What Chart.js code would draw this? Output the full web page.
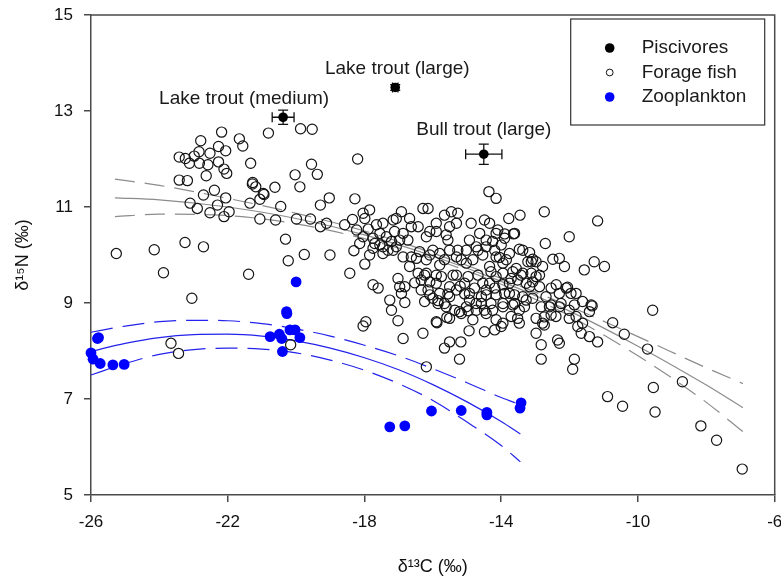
<!DOCTYPE html>
<html>
<head>
<meta charset="utf-8">
<script src="https://cdn.jsdelivr.net/npm/chart.js@4.4.1/dist/chart.umd.min.js"></script>
<style>
  body { margin: 0; background: #fff; }
  #wrap { width: 781px; height: 580px; }
</style>
</head>
<body>
<div id="wrap"><canvas id="myChart" width="781" height="580"></canvas></div>
<script>
// piscivores (mean +/- error)
var piscLabels = ['Lake trout (medium)', 'Lake trout (large)', 'Bull trout (large)'];
var piscC13 = [-20.38, -17.1, -14.51];
var piscN15 = [12.87, 13.49, 12.10];
var piscC13Err = [0.32, 0.08, 0.53];
var piscN15Err = [0.15, 0.06, 0.21];

// forage fish [d13C, d15N]
var forageFish = [
  [-22.18,12.56],[-21.66,12.42],[-21.56,12.27],[-20.81,12.54],[-19.87,12.63],[-19.53,12.62],[-22.79,12.38],[-22.27,12.26],[-22.06,12.17],[-22.84,12.15],
  [-22.52,12.12],[-23.42,12.04],[-23.24,12.01],[-22.98,12.06],[-23.12,11.91],[-22.83,11.91],[-22.58,11.88],[-22.27,11.94],[-22.11,11.79],[-22.03,11.70],
  [-22.63,11.65],[-21.33,11.91],[-23.42,11.56],[-23.18,11.55],[-22.39,11.35],[-22.71,11.25],[-22.06,11.19],[-23.10,11.08],[-22.89,10.97],[-22.52,10.88],
  [-22.30,11.04],[-22.11,10.80],[-21.96,10.90],[-21.28,11.48],[-21.18,11.42],[-20.94,11.26],[-21.06,11.16],[-21.35,11.08],[-20.62,11.41],[-20.45,11.01],
  [-21.06,10.75],[-20.60,10.73],[-20.03,11.67],[-19.89,11.42],[-19.55,11.89],[-19.38,11.68],[-19.99,10.75],[-19.58,10.75],[-19.29,11.04],[-19.03,11.19],
  [-19.11,10.66],[-19.29,10.59],[-20.31,10.33],[-23.25,10.26],[-22.71,10.17],[-24.15,10.11],[-25.26,10.03],[-20.23,9.88],[-19.76,10.01],[-19.01,10.00],
  [-23.88,9.63],[-21.39,9.60],[-23.05,9.10],[-23.66,8.16],[-23.44,7.95],[-21.27,11.51],[-20.96,11.28],[-18.28,11.17],[-18.20,12.00],[-20.16,8.13],
  [-14.36,11.32],[-14.15,11.18],
  [-18.31,10.09],[-18.35,10.74],[-18.04,10.87],[-17.85,10.94],[-17.99,10.76],[-18.58,10.63],[-18.23,10.52],[-17.89,10.54],[-17.65,10.63],[-17.46,10.66],
  [-17.16,10.73],[-17.07,10.76],[-16.92,10.90],[-16.68,10.76],[-16.63,10.59],[-16.87,10.45],[-17.12,10.49],[-17.55,10.45],[-17.36,10.38],[-17.75,10.35],
  [-18.04,10.38],[-18.14,10.24],[-17.70,10.24],[-17.46,10.17],[-17.21,10.28],[-16.97,10.31],[-16.73,10.31],[-16.43,10.59],[-16.29,10.97],[-16.14,10.97],
  [-16.19,10.38],[-16.09,10.49],[-15.90,10.66],[-15.66,10.83],[-15.46,10.90],[-15.27,10.87],[-15.51,10.59],[-15.31,10.66],[-15.61,10.42],[-15.56,10.31],
  [-15.90,10.49],[-15.80,10.03],[-16.09,10.00],[-16.39,10.07],[-16.63,9.96],[-16.87,9.96],[-17.16,10.10],[-17.46,10.03],[-17.75,10.14],[-17.85,10.00],
  [-14.88,10.66],[-14.49,10.73],[-14.63,10.45],[-14.93,10.31],[-14.73,10.17],[-14.44,10.31],[-15.02,10.10],[-15.27,10.10],[-15.51,10.10],[-14.54,10.00],
  [-15.17,9.90],
  [-13.45,10.83],[-13.78,10.76],[-12.74,10.90],[-11.18,10.71],[-14.34,10.66],[-14.10,10.52],[-13.90,10.44],[-13.64,10.44],[-14.25,10.28],[-14.00,10.21],
  [-14.19,10.10],[-12.71,10.24],[-12.01,10.38],[-13.47,10.12],[-13.37,10.10],[-13.17,10.05],[-14.05,9.95],[-13.85,9.90],[-13.08,9.91],[-12.49,9.91],
  [-12.30,9.93],[-11.28,9.86],[-10.98,9.76],[-12.15,9.76],[-11.57,9.69],[-13.22,9.86],[-12.98,9.86],
  [-17.55,10.21],[-17.31,10.10],[-17.07,10.17],[-16.48,9.93],[-16.19,9.90],[-16.00,10.10],[-15.80,9.79],[-15.66,9.90],[-15.31,9.96],[-15.02,9.83],
  [-14.83,9.90],[-14.68,10.10],[-14.34,9.76],[-14.44,10.17],[-14.15,9.96],[-13.95,9.83],[-13.76,10.03],[-13.56,9.72],[-13.37,9.62],[-13.71,9.51],
  [-14.15,10.45],[-13.90,10.35],[-13.61,10.45],
  [-18.43,9.62],[-17.99,9.81],[-17.75,9.38],[-17.60,9.31],[-17.02,9.51],[-16.97,9.34],[-16.92,9.20],[-16.82,9.34],[-17.26,9.06],[-17.21,8.85],
  [-17.02,8.63],[-16.68,9.76],[-16.43,9.62],[-16.24,9.58],[-16.09,9.44],[-16.34,9.27],[-16.14,9.27],[-15.90,9.41],[-15.80,9.20],[-16.00,9.10],
  [-16.24,9.03],[-15.85,8.99],[-15.61,8.92],[-15.51,9.13],[-15.31,9.27],[-15.41,9.58],[-15.07,9.41],[-14.93,9.20],[-14.73,8.99],[-14.58,9.13],
  [-14.44,9.27],[-14.34,9.41],[-14.15,9.55],[-13.95,9.38],[-13.76,9.20],[-13.61,8.99],[-13.95,8.92],[-14.25,8.85],[-14.44,8.78],[-14.15,8.65],
  [-13.95,8.58],[-13.47,8.85],[-13.27,9.06],[-13.17,9.34],[-12.98,9.55],[-12.79,9.76],[-13.12,9.86],[-12.88,9.34],[-12.69,9.13],[-12.59,8.92],
  [-12.30,9.20],[-12.10,9.31],[-11.81,9.20],[-11.62,9.03],[-12.01,8.85],[-11.81,8.72],[-11.62,8.58],[-12.30,8.92],[-12.40,8.72],[-12.79,8.58],
  [-12.98,8.37],[-13.47,8.58],[-13.71,8.72],[-14.83,8.65],[-15.02,8.92],[-15.17,8.78],[-15.36,8.85],[-15.51,8.68],[-15.90,8.61],[-16.29,8.37],
  [-16.87,8.26],
  [-16.82,9.01],[-17.96,8.61],[-18.04,8.52],[-16.53,9.42],[-16.34,9.48],[-16.19,9.62],[-15.90,9.58],[-15.75,9.55],[-16.09,9.17],[-15.85,9.05],
  [-15.66,8.99],[-15.56,9.19],[-15.51,9.34],[-15.31,9.58],[-15.20,9.35],[-15.07,9.19],[-14.93,9.06],[-14.97,9.55],[-14.78,9.31],[-14.68,9.58],
  [-14.54,9.41],[-14.44,9.17],[-14.58,8.99],[-14.73,8.85],[-14.97,8.84],[-15.22,8.82],[-15.59,8.70],[-14.49,8.85],[-15.88,8.59],[-14.94,8.42],
  [-14.49,8.40],[-15.18,8.19],[-15.51,8.19],[-15.66,8.06],[-15.22,7.83],[-16.19,7.67],[-14.19,8.44],[-14.00,8.51],
  [-14.30,9.65],[-13.95,9.62],[-13.66,9.65],[-13.42,9.58],[-13.12,9.62],[-12.88,9.58],[-14.19,9.31],
  [-13.76,9.41],[-13.52,9.48],[-13.27,9.41],[-13.08,9.44],[-12.54,9.31],[-12.39,9.38],[-12.06,9.33],[-11.96,9.20],[-14.15,9.17],
  [-13.90,9.20],[-13.61,9.17],[-13.37,9.13],[-13.08,9.10],[-14.30,8.99],[-13.95,8.99],[-13.66,8.96],[-13.32,8.92],[-12.83,8.92],[-12.54,8.96],
  [-12.25,8.99],[-11.37,8.96],[-11.86,8.96],[-11.42,8.82],[-13.52,8.68],[-12.98,8.68],[-12.74,8.71],[-12.54,8.75],[-12.74,8.54],[-12.01,8.68],
  [-11.76,8.51],[-11.66,8.37],[-11.42,8.30],[-11.18,8.19],[-10.74,8.59],[-10.40,8.35],[-9.72,8.04],[-12.83,8.13],[-12.35,8.23],[-12.30,8.16],
  [-12.83,7.83],[-11.86,7.83],[-11.91,7.62],
  [-9.57,8.85],[-8.70,7.36],[-9.55,7.24],[-10.89,7.05],[-10.45,6.85],[-9.50,6.73],[-8.16,6.44],[-7.70,6.14],[-6.95,5.54],[-11.34,8.94]
];

// zooplankton [d13C, d15N]
var zooplankton = [
  [-25.81,8.26],[-25.78,8.28],[-26.0,7.96],[-25.94,7.83],[-25.73,7.74],[-25.36,7.71],[-25.03,7.72],
  [-20.0,9.44],[-20.28,8.82],[-20.27,8.78],[-20.76,8.30],[-20.49,8.35],[-20.42,8.26],[-20.40,7.99],[-20.18,8.44],[-20.03,8.44],[-19.89,8.28],
  [-17.26,6.42],[-16.82,6.44],[-16.04,6.75],[-15.17,6.76],[-14.42,6.72],[-14.42,6.67],[-13.42,6.92],[-13.45,6.81]
];

// fitted curves
var forageFitC13 = [-25.3, -24, -22, -20, -18, -16, -14, -12, -10, -8, -6.93];
var forageFit    = [11.19, 11.15, 11.00, 10.76, 10.42, 9.98, 9.45, 8.83, 8.10, 7.29, 6.82];
var forageUpper  = [11.58, 11.45, 11.18, 10.87, 10.50, 10.04, 9.51, 8.93, 8.30, 7.65, 7.32];
var forageLower  = [10.80, 10.85, 10.82, 10.65, 10.34, 9.92, 9.39, 8.73, 7.90, 6.93, 6.32];

var zooFitC13 = [-26, -25, -24, -23, -22, -21, -20, -19, -18, -17, -16, -15, -14, -13.44];
var zooFit    = [7.99, 8.16, 8.28, 8.34, 8.35, 8.31, 8.21, 8.06, 7.86, 7.61, 7.30, 6.94, 6.53, 6.27];
var zooUpper  = [8.39, 8.52, 8.61, 8.64, 8.63, 8.57, 8.46, 8.31, 8.12, 7.90, 7.63, 7.34, 7.03, 6.88];
var zooLower  = [7.50, 7.74, 7.93, 8.03, 8.06, 8.04, 7.96, 7.81, 7.60, 7.32, 6.97, 6.52, 6.03, 5.69];

var xTicks = [-26, -22, -18, -14, -10, -6];
var yTicks = [5, 7, 9, 11, 13, 15];

var fontFam = '"Liberation Sans", Arial, sans-serif';
var axisColor = '#4a4a4a';
var blue = 'rgb(0,0,255)';
var blueLine = 'rgb(35,35,235)';
var grayLine = 'rgb(140,140,140)';

function pts(xs, ys) {
  return xs.map(function (x, i) { return { x: x, y: ys[i] }; });
}
function pairs(arr) {
  return arr.map(function (p) { return { x: p[0], y: p[1] }; });
}

function fitLine(xs, ys, color, dash) {
  return {
    data: pts(xs, ys),
    showLine: true,
    borderColor: color,
    borderWidth: 1.2,
    borderDash: dash,
    pointRadius: 0,
    fill: false,
    clip: false,
    cubicInterpolationMode: 'monotone'
  };
}

// error bars of piscivores
var errorBars = {
  id: 'errorBars',
  beforeDatasetsDraw(chart) {
    var c = chart.ctx, xs = chart.scales.x, ys = chart.scales.y, cap = 5;
    c.save();
    c.strokeStyle = '#111';
    c.lineWidth = 1.3;
    for (var i = 0; i < piscC13.length; i++) {
      var px = xs.getPixelForValue(piscC13[i]), py = ys.getPixelForValue(piscN15[i]);
      var x0 = xs.getPixelForValue(piscC13[i] - piscC13Err[i]), x1 = xs.getPixelForValue(piscC13[i] + piscC13Err[i]);
      var y0 = ys.getPixelForValue(piscN15[i] - piscN15Err[i]), y1 = ys.getPixelForValue(piscN15[i] + piscN15Err[i]);
      c.beginPath();
      c.moveTo(x0, py); c.lineTo(x1, py);
      c.moveTo(x0, py - cap); c.lineTo(x0, py + cap);
      c.moveTo(x1, py - cap); c.lineTo(x1, py + cap);
      c.moveTo(px, y0); c.lineTo(px, y1);
      c.moveTo(px - cap, y0); c.lineTo(px + cap, y0);
      c.moveTo(px - cap, y1); c.lineTo(px + cap, y1);
      c.stroke();
    }
    c.restore();
  }
};

// text next to the piscivores
var labelDx = [-39, 2, 0];
var labelDy = [-18, -19, -24];
var pointLabels = {
  id: 'pointLabels',
  afterDatasetsDraw(chart) {
    var c = chart.ctx, xs = chart.scales.x, ys = chart.scales.y;
    c.save();
    c.font = '19px ' + fontFam;
    c.fillStyle = '#1a1a1a';
    c.textAlign = 'center';
    c.textBaseline = 'middle';
    piscLabels.forEach(function (t, i) {
      c.fillText(t, xs.getPixelForValue(piscC13[i]) + labelDx[i], ys.getPixelForValue(piscN15[i]) + labelDy[i]);
    });
    c.restore();
  }
};

// top + right border and boxed legend
var frameAndLegend = {
  id: 'frameAndLegend',
  afterDraw(chart) {
    var a = chart.chartArea, c = chart.ctx;
    c.save();
    c.strokeStyle = axisColor;
    c.lineWidth = 1.5;
    c.beginPath();
    c.moveTo(a.left, a.top); c.lineTo(a.right, a.top); c.lineTo(a.right, a.bottom);
    c.stroke();

    var bx = a.right - 204, by = a.top + 4;
    c.lineWidth = 1.2;
    c.strokeStyle = '#333';
    c.strokeRect(bx, by, 194, 106);
    c.font = '19px ' + fontFam;
    c.fillStyle = '#1a1a1a';
    c.textAlign = 'left';
    c.textBaseline = 'middle';
    var items = chart.data.datasets.filter(function (d) { return d.inLegend; });
    items.forEach(function (d, i) {
      var ry = by + 29 + i * 24.5, mx = bx + 39;
      c.beginPath();
      if (d.backgroundColor === 'transparent') {
        c.arc(mx, ry, 3.4, 0, Math.PI * 2);
        c.lineWidth = 1;
        c.strokeStyle = '#111';
        c.stroke();
      } else {
        c.arc(mx, ry, 4.8, 0, Math.PI * 2);
        c.fillStyle = d.backgroundColor;
        c.fill();
      }
      c.fillStyle = '#1a1a1a';
      c.fillText(d.label, bx + 71, ry);
    });
    c.restore();
  }
};

var ctx = document.getElementById('myChart');
var myChart = new Chart(ctx, {
  type: 'scatter',
  data: {
    datasets: [
      {
        label: 'Piscivores', inLegend: true, clip: false,
        data: pts(piscC13, piscN15),
        pointRadius: 4.8, backgroundColor: '#000', borderColor: '#000', borderWidth: 0
      },
      {
        label: 'Forage fish', inLegend: true, clip: false,
        data: pairs(forageFish),
        pointRadius: 5.1, backgroundColor: 'transparent', borderColor: '#151515', borderWidth: 1.2
      },
      {
        label: 'Zooplankton', inLegend: true, clip: false,
        data: pairs(zooplankton),
        pointRadius: 5.4, backgroundColor: blue, borderColor: blue, borderWidth: 0
      },
      fitLine(zooFitC13, zooFit, blueLine, []),
      fitLine(zooFitC13, zooUpper, blueLine, [22, 10]),
      fitLine(zooFitC13, zooLower, blueLine, [22, 10]),
      fitLine(forageFitC13, forageFit, grayLine, []),
      fitLine(forageFitC13, forageUpper, grayLine, [20, 10]),
      fitLine(forageFitC13, forageLower, grayLine, [20, 10])
    ]
  },
  options: {
    responsive: false,
    animation: false,
    events: [],
    layout: { padding: { left: 0, right: 5, top: 15, bottom: 0 } },
    plugins: { legend: { display: false }, tooltip: { enabled: false } },
    scales: {
      x: {
        type: 'linear', min: xTicks[0], max: xTicks[xTicks.length - 1],
        afterBuildTicks: function (s) { s.ticks = xTicks.map(function (v) { return { value: v }; }); },
        ticks: { padding: 10, color: '#111', font: { family: fontFam, size: 17 }, maxRotation: 0 },
        grid: { drawOnChartArea: false, drawTicks: true, tickLength: 7, color: axisColor, lineWidth: 1.5 },
        border: { display: true, color: axisColor, width: 1.5 },
        title: { display: true, text: 'δ¹³C (‰)', color: '#111', font: { family: fontFam, size: 18 }, padding: { top: 0, bottom: 2 } },
        afterFit: function (s) { s.height = 85; s.paddingLeft = 0; s.paddingRight = 0; }
      },
      y: {
        type: 'linear', min: yTicks[0], max: yTicks[yTicks.length - 1],
        afterBuildTicks: function (s) { s.ticks = yTicks.map(function (v) { return { value: v }; }); },
        ticks: { padding: 11, color: '#111', font: { family: fontFam, size: 17 } },
        grid: { drawOnChartArea: false, drawTicks: true, tickLength: 7, color: axisColor, lineWidth: 1.5 },
        border: { display: true, color: axisColor, width: 1.5 },
        title: { display: true, text: 'δ¹⁵N (‰)', color: '#111', font: { family: fontFam, size: 18 }, padding: { top: 12, bottom: 0 } },
        afterFit: function (s) { s.width = 91; s.paddingTop = 0; s.paddingBottom = 0; }
      }
    }
  },
  plugins: [errorBars, pointLabels, frameAndLegend]
});
</script>
</body>
</html>
